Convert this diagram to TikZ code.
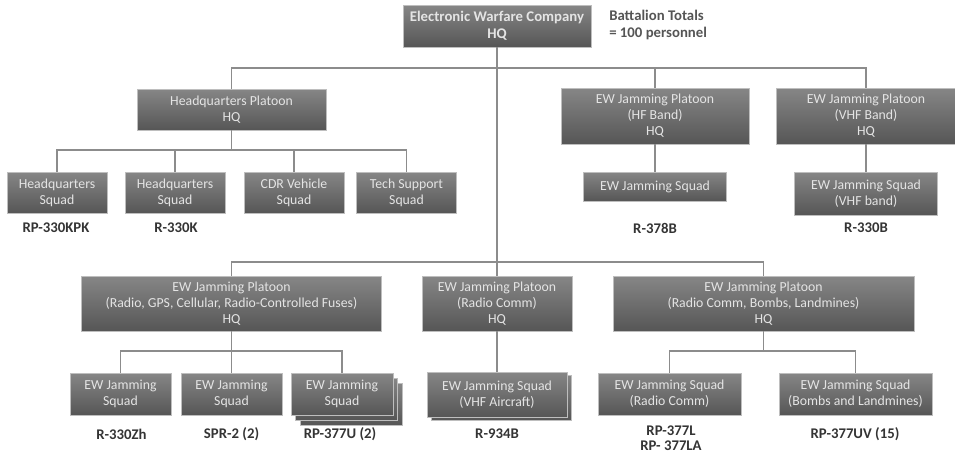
\documentclass[tikz,border=0pt]{standalone}
\usepackage{fontspec}
\setmainfont{Carlito}
\usetikzlibrary{positioning}
\definecolor{boxtop}{RGB}{134,134,134}
\definecolor{boxbot}{RGB}{86,86,86}
\definecolor{boxline}{RGB}{190,190,190}
\definecolor{boxtext}{RGB}{228,228,228}
\definecolor{linkgray}{RGB}{140,140,140}
\definecolor{tagtext}{RGB}{52,52,52}
\definecolor{notetext}{RGB}{85,85,85}

\begin{document}
\begin{tikzpicture}[
    x=0.025cm, y=-0.025cm,
    unit/.style 2 args={draw=boxline, line width=0.5pt, top color=boxtop, bottom color=boxbot, text=boxtext,
      minimum width=#1*0.025cm, minimum height=#2*0.025cm, inner sep=0pt, align=center,
      font=\fontsize{9.8}{11.4}\selectfont},
    link/.style={draw=linkgray, line width=1.4pt},
    tag/.style={text=tagtext, inner sep=0pt, align=center, font=\bfseries\fontsize{10.5}{10.5}\selectfont},
]
\useasboundingbox (0,0) rectangle (955,454);

% ===== COMPANY =====
\node[unit={188}{42}, font=\bfseries\fontsize{10.5}{12.2}\selectfont] (ewhq) at (497,26) {Electronic Warfare Company\\HQ};
\node[tag, text=notetext, align=left, anchor=west, font=\bfseries\fontsize{10.5}{12.2}\selectfont] (totals) at (609,25) {Battalion Totals\\= 100 personnel};

% ===== UPPER PLATOONS =====
\node[unit={189}{41}] (hqplt) at (231.5,109.5) {Headquarters Platoon\\HQ};
\node[unit={188}{56}] (hfplt) at (655,116) {EW Jamming Platoon\\(HF Band)\\HQ};
\node[unit={180}{56}] (vhfplt) at (866,116) {EW Jamming Platoon\\(VHF Band)\\HQ};

\node[unit={100}{41}] (hqsqa) at (57,192.5) {Headquarters\\Squad};
\node[unit={100}{41}] (hqsqb) at (175,192.5) {Headquarters\\Squad};
\node[unit={100}{41}] (cdrsq) at (294,192.5) {CDR Vehicle\\Squad};
\node[unit={100}{41}] (techsq) at (406.5,192.5) {Tech Support\\Squad};
\node[unit={143}{29}] (hfsq) at (655,186.5) {EW Jamming Squad};
\node[unit={143}{43}] (vhfsq) at (866,193.5) {EW Jamming Squad\\(VHF band)};

\node[tag] (tagkpk) at (56,228) {RP-330KPK};
\node[tag] (tagk) at (176,228) {R-330K};
\node[tag] (tagb) at (655,228) {R-378B};
\node[tag] (tagvb) at (866,228) {R-330B};

% ===== LOWER PLATOONS =====
\node[unit={300}{55}] (gpsplt) at (231.5,303.5) {EW Jamming Platoon\\(Radio, GPS, Cellular, Radio-Controlled Fuses)\\HQ};
\node[unit={150}{55}] (rcplt) at (497,303.5) {EW Jamming Platoon\\(Radio Comm)\\HQ};
\node[unit={301}{55}] (bmbplt) at (763.5,303.5) {EW Jamming Platoon\\(Radio Comm, Bombs, Landmines)\\HQ};

\node[unit={101}{42}] (jama) at (120.5,394) {EW Jamming\\Squad};
\node[unit={101}{42}] (jamb) at (231.5,394) {EW Jamming\\Squad};
\node[unit={102}{42}] (jamcc) at (351,404) {};
\node[unit={102}{42}] (jamcb) at (346.5,399) {};
\node[unit={102}{42}] (jamc) at (342,394) {EW Jamming\\Squad};
\node[unit={140}{45}] (rcsqb) at (501,397.5) {};
\node[unit={140}{45}] (rcsq) at (497,394.5) {EW Jamming Squad\\(VHF Aircraft)};
\node[unit={143}{42}] (radsq) at (669.5,394) {EW Jamming Squad\\(Radio Comm)};
\node[unit={153}{42}] (bmbsq) at (855.5,394) {EW Jamming Squad\\(Bombs and Landmines)};

\node[tag] (tagzh) at (121.5,434) {R-330Zh};
\node[tag] (tagspr) at (231.5,434) {SPR-2 (2)};
\node[tag] (tagu) at (340,434) {RP-377U (2)};
\node[tag] (tag934) at (497,434) {R-934B};
\node[tag] (tagl) at (671,438) {RP-377L\\RP- 377LA};
\node[tag] (taguv) at (855,434) {RP-377UV (15)};

% ===== CONNECTORS =====
\coordinate (topbus) at (497,68);
\coordinate (midbus) at (497,262);
\coordinate (hqbus) at (231.5,150);
\coordinate (gpsbus) at (231.5,351);
\coordinate (bmbbus) at (763.5,351);

\begin{scope}[on background layer/.try]
\draw[link] (ewhq.south) -- (rcplt.north);
\draw[link] (hqplt.north) |- (topbus) -| (vhfplt.north);
\draw[link] (hfplt.north) -- (hfplt.north |- topbus);
\draw[link] (gpsplt.north) |- (midbus) -| (bmbplt.north);

\draw[link] (hqplt.south) -- (hqbus);
\draw[link] (hqsqa.north) |- (hqbus) -| (techsq.north);
\foreach \n in {hqsqb,cdrsq}
  \draw[link] (\n.north) -- (\n.north |- hqbus);
\draw[link] (hfplt.south) -- (hfsq.north);
\draw[link] (vhfplt.south) -- (vhfsq.north);

\draw[link] (gpsplt.south) -- (gpsbus);
\draw[link] (jama.north) |- (gpsbus) -| (jamc.north);
\draw[link] (jamb.north) -- (jamb.north |- gpsbus);
\draw[link] (rcplt.south) -- (rcsq.north);
\draw[link] (bmbplt.south) -- (bmbbus);
\draw[link] (radsq.north) |- (bmbbus) -| (bmbsq.north);
\end{scope}

\end{tikzpicture}
\end{document}
